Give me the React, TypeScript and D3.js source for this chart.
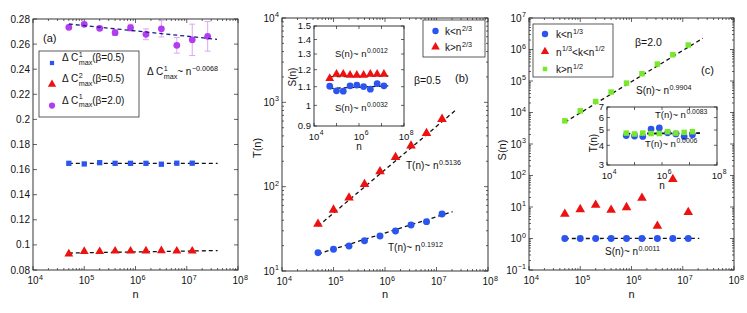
import React, { useEffect, useRef } from 'react';
import * as d3 from 'd3';

// sizes of the graph n
const N9 = [5e4, 1e5, 2e5, 4e5, 8e5, 1.6e6, 3.2e6, 6.4e6, 1.28e7];
const N10 = [5e4, 1e5, 2e5, 4e5, 8e5, 1.6e6, 3.2e6, 6.4e6, 1.28e7, 2.56e7];

// panel (a)
const dC1beta05 = [0.165, 0.1645, 0.1655, 0.165, 0.165, 0.165, 0.1643, 0.1651, 0.1651];
const dC2beta05 = [0.0928, 0.0948, 0.0947, 0.0951, 0.0951, 0.0952, 0.0954, 0.0951, 0.0951];
const dC1beta20 = [0.2734, 0.2758, 0.2726, 0.2691, 0.2731, 0.2678, 0.2722, 0.259, 0.2634, 0.2662];
const dC1beta20Err = [0.0015, 0.0015, 0.0015, 0.0022, 0.0027, 0.0043, 0.0065, 0.0062, 0.0125, 0.0118];
const fitA1 = [[5e4, 0.165], [4e7, 0.165]];
const fitA2 = [[5e4, 0.0935], [4e7, 0.0955]];
const fitA3 = [[5e4, 0.276], [3.9e7, 0.2638]];

// panel (b)
const Tsmall = [16.5, 18.1, 19.8, 22.9, 26.0, 29.8, 35.1, 38.5, 47.4];
const Tlarge = [36, 53, 74, 107, 151, 223, 306, 430, 632];
const fitBsmall = [[5e4, 15.9], [2.05e7, 50.5]];
const fitBlarge = [[5e4, 34], [2.4e7, 815]];
const SsmallB = [1.103, 1.077, 1.075, 1.105, 1.109, 1.101, 1.086, 1.118, 1.105];
const SlargeB = [1.148, 1.173, 1.173, 1.167, 1.167, 1.167, 1.173, 1.173, 1.173];
const fitInsetBsmall = [[5e4, 1.09], [2e7, 1.105]];
const fitInsetBlarge = [[5e4, 1.158], [2e7, 1.162]];

// panel (c)
const ScSmall = [1, 1, 1, 1, 1, 1, 1, 1, 1];
const ScMid = [6.0, 8.4, 11.5, 8.0, 9.7, 19.2, 2.5, 75.6, 6.8];
const ScLarge = [5430, 11300, 22400, 44500, 85900, 170000, 345000, 681000, 1387000];
const fitCsmall = [[5e4, 1], [2.1e7, 1.007]];
const fitClarge = [[5e4, 4900], [2.47e7, 2.28e6]];
const TcSmall = [4.61, 4.58, 4.55, 5.07, 5.15, 4.8, 4.72, 4.55, 4.67];
const TcLarge = [4.78, 4.72, 4.78, 4.75, 4.75, 4.88, 4.78, 4.83, 4.88];
const fitInsetC1 = [[5e4, 4.72], [2.4e7, 4.76]];
const fitInsetC2 = [[5e4, 4.76], [2.4e7, 4.8]];

const FONT = 'Liberation Sans, Arial, Helvetica, sans-serif';
const BLUE = '#2b55ee';
const RED = '#ee1111';
const PURPLE = '#b23cf0';
const GREEN = '#77e82a';

type Seg = string | { sup?: string; sub?: string };

function rich(g: any, x: number, y: number, segs: Seg[], fs = 10, anchor = 'start') {
  const grp = g.append('g');
  let cx = 0;
  const len = (t: any) => (t.node() as SVGTextElement).getComputedTextLength();
  segs.forEach((s) => {
    if (typeof s === 'string') {
      const t = grp.append('text').attr('x', cx).attr('y', 0).attr('font-size', fs).text(s);
      cx += len(t);
    } else {
      let w = 0;
      if (s.sup) {
        const t = grp.append('text').attr('x', cx + 0.5).attr('y', -fs * 0.45).attr('font-size', fs * 0.72).text(s.sup);
        w = Math.max(w, len(t) + 0.5);
      }
      if (s.sub) {
        const t = grp.append('text').attr('x', cx + 0.5).attr('y', fs * 0.35).attr('font-size', fs * 0.72).text(s.sub);
        w = Math.max(w, len(t) + 0.5);
      }
      cx += w;
    }
  });
  const dx = anchor === 'end' ? -cx : anchor === 'middle' ? -cx / 2 : 0;
  grp.attr('transform', `translate(${x + dx},${y})`);
  return grp;
}

function logMinor(lo: number, hi: number) {
  const out: number[] = [];
  for (let k = lo; k < hi; k++) for (let m = 2; m <= 9; m++) out.push(m * Math.pow(10, k));
  return out;
}

function frame(g: any, x: any, y: any, o: any) {
  const [x0, x1] = x.range();
  const [y0, y1] = y.range(); // y0 bottom, y1 top
  const maj = o.maj ?? 4;
  const mn = o.mn ?? 2;
  const tick = (x1_: number, y1_: number, x2_: number, y2_: number) =>
    g.append('line').attr('x1', x1_).attr('y1', y1_).attr('x2', x2_).attr('y2', y2_)
      .attr('stroke', '#222').attr('stroke-width', 0.7);
  o.xMajor.forEach((v: number) => { const p = x(v); tick(p, y0, p, y0 - maj); tick(p, y1, p, y1 + maj); });
  (o.xMinor || []).forEach((v: number) => { const p = x(v); tick(p, y0, p, y0 - mn); tick(p, y1, p, y1 + mn); });
  o.yMajor.forEach((v: number) => { const p = y(v); tick(x0, p, x0 + maj, p); tick(x1, p, x1 - maj, p); });
  (o.yMinor || []).forEach((v: number) => { const p = y(v); tick(x0, p, x0 + mn, p); tick(x1, p, x1 - mn, p); });
  g.append('rect').attr('x', x0).attr('y', y1).attr('width', x1 - x0).attr('height', y0 - y1)
    .attr('fill', 'none').attr('stroke', '#222').attr('stroke-width', 0.9);
  const fs = o.fs ?? 10;
  (o.xLabels || []).forEach((v: number) => {
    const p = x(v);
    const e = Math.round(Math.log10(v));
    const t = g.append('text').attr('x', p).attr('y', y0 + fs + 4).attr('font-size', fs)
      .attr('text-anchor', 'middle').text('10');
    const w = (t.node() as SVGTextElement).getComputedTextLength();
    g.append('text').attr('x', p + w / 2 + 0.5).attr('y', y0 + fs - 0.5).attr('font-size', fs * 0.72)
      .text(e < 0 ? `\u2212${-e}` : `${e}`);
  });
  (o.yLabels || []).forEach((v: number) => {
    const p = y(v);
    if (o.yLog) {
      const e = Math.round(Math.log10(v));
      rich(g, x0 - 3, p + fs * 0.35, ['10', { sup: e < 0 ? `\u2212${-e}` : `${e}` }], fs, 'end');
    } else {
      g.append('text').attr('x', x0 - 3).attr('y', p + fs * 0.35).attr('font-size', fs)
        .attr('text-anchor', 'end').text(o.yFmt ? o.yFmt(v) : `${v}`);
    }
  });
}

function marks(g: any, x: any, y: any, xs: number[], ys: number[], type: any, size: number, color: string) {
  g.selectAll(null).data(ys).enter().append('path')
    .attr('d', d3.symbol().type(type).size(size)())
    .attr('transform', (d: number, i: number) => `translate(${x(xs[i])},${y(d)})`)
    .attr('fill', color);
}

function fit(g: any, x: any, y: any, pts: number[][], color = '#111') {
  g.append('path').attr('d', d3.line<number[]>().x((d) => x(d[0])).y((d) => y(d[1]))(pts))
    .attr('fill', 'none').attr('stroke', color).attr('stroke-width', 1.3).attr('stroke-dasharray', '4,3');
}

export default function App() {
  const ref = useRef<SVGSVGElement>(null);

  useEffect(() => {
    if (!ref.current) return;
    const svg = d3.select(ref.current);
    svg.selectAll('*').remove();
    const g = svg.append('g').attr('font-family', FONT).attr('fill', '#111');

    const decades = [1e4, 1e5, 1e6, 1e7, 1e8];
    const minor = logMinor(4, 8);

    // ---------- panel (a)
    const xa = d3.scaleLog().domain([1e4, 1e8]).range([33, 238]);
    const ya = d3.scaleLinear().domain([0.08, 0.28]).range([270, 19]);
    const aTicks = d3.range(0.08, 0.2801, 0.02);
    frame(g, xa, ya, {
      xMajor: decades, xMinor: minor, yMajor: aTicks, xLabels: decades, yLabels: aTicks,
      yFmt: (v: number) => d3.format('.2~f')(v),
    });
    fit(g, xa, ya, fitA1);
    fit(g, xa, ya, fitA2);
    // error bars
    const eb = g.append('g').attr('stroke', '#dca6f3').attr('stroke-width', 1);
    dC1beta20.forEach((v, i) => {
      const px = xa(N10[i]);
      const lo = ya(v - dC1beta20Err[i]);
      const hi = ya(v + dC1beta20Err[i]);
      eb.append('line').attr('x1', px).attr('x2', px).attr('y1', lo).attr('y2', hi);
      eb.append('line').attr('x1', px - 3).attr('x2', px + 3).attr('y1', lo).attr('y2', lo);
      eb.append('line').attr('x1', px - 3).attr('x2', px + 3).attr('y1', hi).attr('y2', hi);
    });
    marks(g, xa, ya, N10, dC1beta20, d3.symbolCircle, 36, PURPLE);
    fit(g, xa, ya, fitA3, '#1c1c8a');
    marks(g, xa, ya, N9, dC1beta05, d3.symbolSquare, 28, BLUE);
    marks(g, xa, ya, N9, dC2beta05, d3.symbolTriangle, 34, RED);
    g.append('text').attr('x', 43).attr('y', 42).attr('font-size', 11).text('(a)');
    rich(g, 147, 75, ['\u0394 C', { sup: '1', sub: 'max' }, '~ n', { sup: '\u22120.0068' }], 10);
    // legend (a)
    g.append('rect').attr('x', 39).attr('y', 51).attr('width', 100).attr('height', 66)
      .attr('fill', '#fff').attr('stroke', '#333').attr('stroke-width', 0.8);
    const legA = [
      { sym: d3.symbolSquare, c: BLUE, s: 18, k: '1', b: '0.5' },
      { sym: d3.symbolTriangle, c: RED, s: 30, k: '2', b: '0.5' },
      { sym: d3.symbolCircle, c: PURPLE, s: 30, k: '1', b: '2.0' },
    ];
    legA.forEach((d, i) => {
      const yy = 63 + i * 21.3;
      g.append('path').attr('d', d3.symbol().type(d.sym).size(d.s)()).attr('transform', `translate(52,${yy})`).attr('fill', d.c);
      rich(g, 62, yy - 2, ['\u0394 C', { sup: d.k, sub: 'max' }, `(\u03b2=${d.b})`], 10);
    });
    g.append('text').attr('x', (33 + 238) / 2).attr('y', 298).attr('font-size', 11).attr('text-anchor', 'middle').text('n');

    // ---------- panel (b)
    const xb = d3.scaleLog().domain([1e4, 1e8]).range([282, 488]);
    const yb = d3.scaleLog().domain([10, 1e4]).range([271, 18]);
    const bDec = [10, 100, 1000, 10000];
    frame(g, xb, yb, {
      xMajor: decades, xMinor: minor, yMajor: bDec, yMinor: logMinor(1, 4),
      xLabels: decades, yLabels: bDec, yLog: true,
    });
    fit(g, xb, yb, fitBsmall);
    fit(g, xb, yb, fitBlarge);
    marks(g, xb, yb, N9, Tsmall, d3.symbolCircle, 38, BLUE);
    marks(g, xb, yb, N9, Tlarge, d3.symbolTriangle, 40, RED);
    rich(g, 406, 169, ['T(n)~ n', { sup: '0.5136' }], 10);
    rich(g, 388, 251, ['T(n)~ n', { sup: '0.1912' }], 10);
    g.append('text').attr('x', 414).attr('y', 84).attr('font-size', 10.5).text('\u03b2=0.5');
    g.append('text').attr('x', 455).attr('y', 82).attr('font-size', 11).text('(b)');
    g.append('text').attr('transform', `translate(261,148) rotate(-90)`).attr('font-size', 11)
      .attr('text-anchor', 'middle').text('T(n)');
    g.append('text').attr('x', (282 + 488) / 2).attr('y', 298).attr('font-size', 11).attr('text-anchor', 'middle').text('n');
    // legend (b)
    g.append('rect').attr('x', 423).attr('y', 20).attr('width', 62).attr('height', 37)
      .attr('fill', '#fff').attr('stroke', '#333').attr('stroke-width', 0.8);
    g.append('path').attr('d', d3.symbol().type(d3.symbolCircle).size(32)()).attr('transform', 'translate(435.5,31)').attr('fill', BLUE);
    g.append('path').attr('d', d3.symbol().type(d3.symbolTriangle).size(32)()).attr('transform', 'translate(435.5,47)').attr('fill', RED);
    rich(g, 445, 35, ['k<n', { sup: '2/3' }], 10);
    rich(g, 445, 51, ['k>n', { sup: '2/3' }], 10);
    // inset (b)
    const xbi = d3.scaleLog().domain([1e4, 1e8]).range([314, 404]);
    const ybi = d3.scaleLog().domain([0.9, 1.5]).range([126, 26]);
    g.append('rect').attr('x', 314).attr('y', 26).attr('width', 90).attr('height', 100).attr('fill', '#fff');
    const biY = [0.9, 1, 1.1, 1.2, 1.3, 1.4, 1.5];
    frame(g, xbi, ybi, {
      xMajor: decades, yMajor: biY, xLabels: [1e4, 1e6, 1e8], yLabels: biY, fs: 9.5, maj: 3,
      yFmt: (v: number) => `${v}`,
    });
    fit(g, xbi, ybi, fitInsetBsmall);
    fit(g, xbi, ybi, fitInsetBlarge);
    marks(g, xbi, ybi, N9, SsmallB, d3.symbolCircle, 36, BLUE);
    marks(g, xbi, ybi, N9, SlargeB, d3.symbolTriangle, 34, RED);
    rich(g, 335, 57, ['S(n)~ n', { sup: '0.0012' }], 9.5);
    rich(g, 335, 111, ['S(n)~ n', { sup: '0.0032' }], 9.5);
    g.append('text').attr('x', 359).attr('y', 150).attr('font-size', 10).attr('text-anchor', 'middle').text('n');
    g.append('text').attr('transform', `translate(296,77) rotate(-90)`).attr('font-size', 10)
      .attr('text-anchor', 'middle').text('S(n)');

    // ---------- panel (c)
    const xc = d3.scaleLog().domain([1e4, 1e8]).range([529, 734]);
    const yc = d3.scaleLog().domain([0.1, 1e7]).range([270, 18]);
    const cDec = [0.1, 1, 10, 100, 1e3, 1e4, 1e5, 1e6, 1e7];
    frame(g, xc, yc, {
      xMajor: decades, xMinor: minor, yMajor: cDec, yMinor: logMinor(-1, 7),
      xLabels: decades, yLabels: cDec, yLog: true,
    });
    fit(g, xc, yc, fitClarge);
    fit(g, xc, yc, fitCsmall);
    marks(g, xc, yc, N9, ScSmall, d3.symbolCircle, 38, BLUE);
    marks(g, xc, yc, N9, ScMid, d3.symbolTriangle, 40, RED);
    marks(g, xc, yc, N9, ScLarge, d3.symbolSquare, 30, GREEN);
    rich(g, 636, 94, ['S(n)~ n', { sup: '0.9904' }], 10);
    rich(g, 605, 255, ['S(n)~ n', { sup: '0.0011' }], 10);
    g.append('text').attr('x', 635).attr('y', 46).attr('font-size', 10.5).text('\u03b2=2.0');
    g.append('text').attr('x', 701).attr('y', 74).attr('font-size', 11).text('(c)');
    g.append('text').attr('transform', `translate(506,150) rotate(-90)`).attr('font-size', 11)
      .attr('text-anchor', 'middle').text('S(n)');
    g.append('text').attr('x', (529 + 734) / 2).attr('y', 298).attr('font-size', 11).attr('text-anchor', 'middle').text('n');
    // legend (c)
    g.append('rect').attr('x', 533).attr('y', 24).attr('width', 80).attr('height', 53)
      .attr('fill', '#fff').attr('stroke', '#333').attr('stroke-width', 0.8);
    const legC: { sym: any; c: string; s: number; t: Seg[] }[] = [
      { sym: d3.symbolCircle, c: BLUE, s: 32, t: ['k<n', { sup: '1/3' }] },
      { sym: d3.symbolTriangle, c: RED, s: 30, t: ['n', { sup: '1/3' }, '<k<n', { sup: '1/2' }] },
      { sym: d3.symbolSquare, c: GREEN, s: 20, t: ['k>n', { sup: '1/2' }] },
    ];
    legC.forEach((d, i) => {
      const yy = 34 + i * 17.5;
      g.append('path').attr('d', d3.symbol().type(d.sym).size(d.s)()).attr('transform', `translate(545,${yy})`).attr('fill', d.c);
      rich(g, 556, yy + 4, d.t, 10);
    });
    // inset (c)
    const xci = d3.scaleLog().domain([1e4, 1e8]).range([607, 717]);
    const yci = d3.scaleLog().domain([3, 7]).range([165, 107]);
    g.append('rect').attr('x', 607).attr('y', 107).attr('width', 110).attr('height', 58).attr('fill', '#fff');
    const ciY = [3, 4, 5, 6, 7];
    frame(g, xci, yci, {
      xMajor: decades, yMajor: ciY, xLabels: [1e4, 1e6, 1e8], yLabels: ciY, fs: 9.5, maj: 3,
    });
    fit(g, xci, yci, fitInsetC1);
    fit(g, xci, yci, fitInsetC2);
    marks(g, xci, yci, N9, TcSmall, d3.symbolCircle, 36, BLUE);
    marks(g, xci, yci, N9, TcLarge, d3.symbolSquare, 30, GREEN);
    rich(g, 655, 118, ['T(n)~ n', { sup: '0.0083' }], 9.5);
    rich(g, 645, 147, ['T(n)~ n', { sup: '0.0006' }], 9.5);
    g.append('text').attr('x', 662).attr('y', 189).attr('font-size', 10).attr('text-anchor', 'middle').text('n');
    g.append('text').attr('transform', `translate(597,143) rotate(-90)`).attr('font-size', 10)
      .attr('text-anchor', 'middle').text('T(n)');
  }, []);

  return (
    <svg
      ref={ref}
      width={747}
      height={313}
      style={{ position: 'absolute', left: 0, top: 0, background: '#fff' }}
    />
  );
}
